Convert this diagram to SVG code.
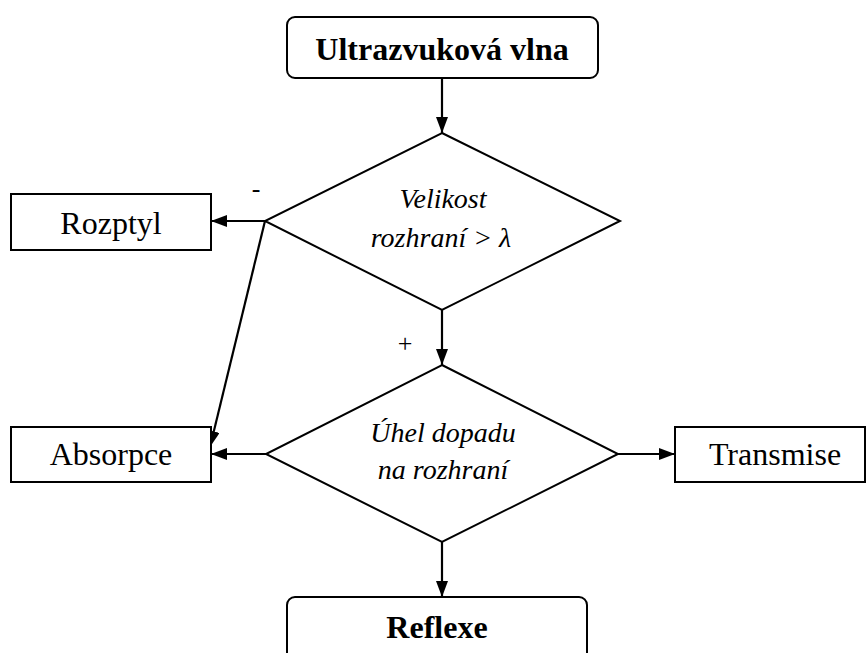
<svg xmlns="http://www.w3.org/2000/svg" width="866" height="653" viewBox="0 0 866 653">
<defs>
<style>
.box{fill:#fff;stroke:#000;stroke-width:2}
text{font-family:'Liberation Serif','Times New Roman',Times,serif;fill:#000;text-anchor:middle}
.b{font-weight:bold;font-size:32px}
.r{font-size:32px}
.i{font-style:italic;font-size:28px}
.c{fill:none;stroke:#000;stroke-width:2.2}
</style>
<marker id="ah" viewBox="0 0 16 12" refX="16" refY="6" markerWidth="16" markerHeight="12" markerUnits="userSpaceOnUse" orient="auto">
<path d="M0,0 L16,6 L0,12 z" fill="#000"/>
</marker>
</defs>
<rect width="866" height="653" fill="#fff"/>
<g id="connectors">
<line class="c" x1="442" y1="78" x2="442" y2="133" marker-end="url(#ah)"/>
<line class="c" x1="265" y1="221" x2="211" y2="221" marker-end="url(#ah)"/>
<line class="c" x1="265" y1="221" x2="210" y2="447" marker-end="url(#ah)"/>
<line class="c" x1="442" y1="310" x2="442" y2="365" marker-end="url(#ah)"/>
<line class="c" x1="266" y1="454" x2="211" y2="454" marker-end="url(#ah)"/>
<line class="c" x1="618" y1="454" x2="675" y2="454" marker-end="url(#ah)"/>
<line class="c" x1="442" y1="542" x2="442" y2="597" marker-end="url(#ah)"/>
<text x="256" y="197" font-family="Liberation Serif, serif" style="font-size:26px">-</text>
<text x="405" y="352" font-family="Liberation Serif, serif" style="font-size:26px">+</text>
</g>
<g id="start">
<rect class="box" x="287" y="17" width="311" height="61" rx="8"/>
<text class="b" x="442" y="60" font-family="Liberation Serif, serif">Ultrazvuková vlna</text>
</g>
<g id="decision1">
<polygon class="box" points="442,133 620,221 442,310 265,221"/>
<text class="i" x="443" y="208" font-family="Liberation Serif, serif">Velikost</text>
<text class="i" x="441" y="247" font-family="Liberation Serif, serif">rozhraní &gt; λ</text>
</g>
<g id="rozptyl">
<rect class="box" x="11" y="194" width="200" height="56"/>
<text class="r" x="111" y="234" font-family="Liberation Serif, serif">Rozptyl</text>
</g>
<g id="decision2">
<polygon class="box" points="442,365 618,454 442,542 266,454"/>
<text class="i" x="443" y="442" font-family="Liberation Serif, serif">Úhel dopadu</text>
<text class="i" x="443" y="479" font-family="Liberation Serif, serif">na rozhraní</text>
</g>
<g id="absorpce">
<rect class="box" x="11" y="427" width="200" height="55"/>
<text class="r" x="111" y="465" font-family="Liberation Serif, serif">Absorpce</text>
</g>
<g id="transmise">
<rect class="box" x="675" y="427" width="190" height="55"/>
<text class="r" x="775" y="465" font-family="Liberation Serif, serif">Transmise</text>
</g>
<g id="reflexe">
<rect class="box" x="287" y="597" width="300" height="80" rx="8"/>
<text class="b" x="437" y="638" font-family="Liberation Serif, serif">Reflexe</text>
</g>
</svg>
